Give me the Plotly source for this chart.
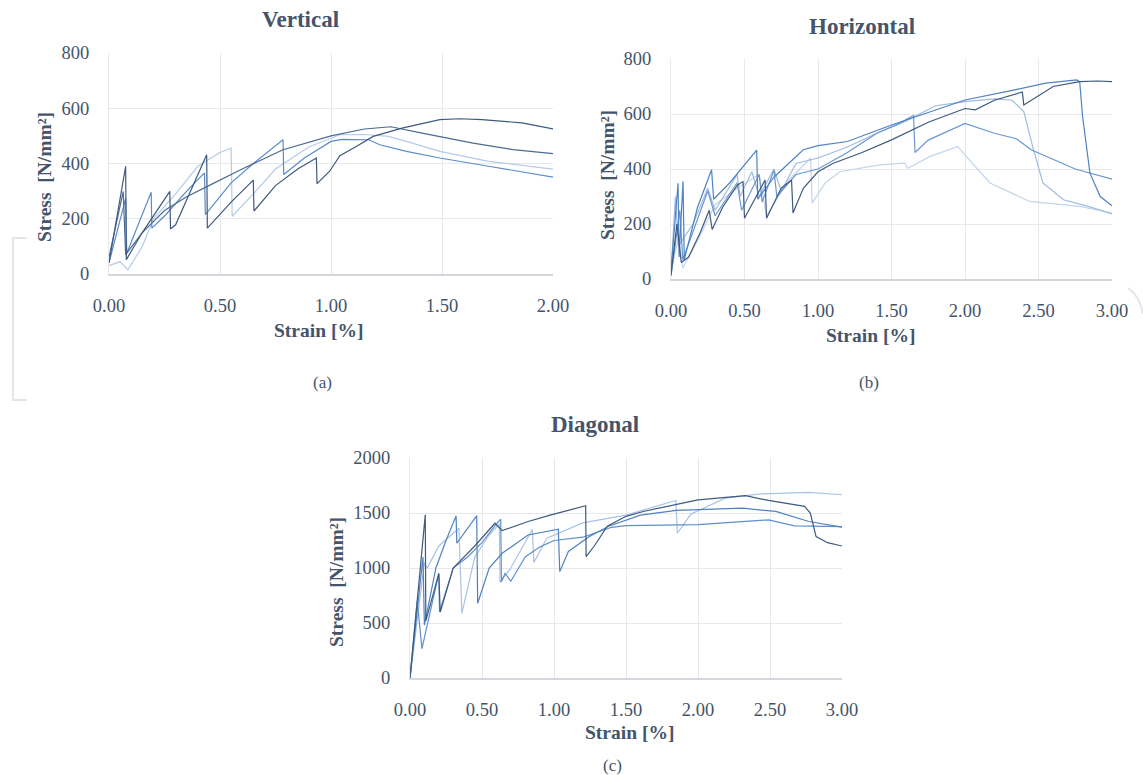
import plotly.graph_objects as go

W, H = 1143, 775

# ---------------- DATA ----------------
# Vertical
V1_strain = [0, 0.075, 0.078, 0.15, 0.274, 0.277, 0.30, 0.44, 0.443, 0.55, 0.65, 0.653, 0.75, 0.85, 0.934, 0.937, 0.994, 1.04, 1.11, 1.19, 1.32, 1.49, 1.58, 1.68, 1.86, 2.0]
V1_stress = [40, 390, 52, 150, 299, 163, 178, 432, 166, 260, 340, 228, 320, 380, 420, 327, 372, 428, 460, 498, 528, 559, 562, 559, 547, 525]
V2_strain = [0, 0.064, 0.075, 0.15, 0.25, 0.35, 0.45, 0.60, 0.784, 1.0, 1.15, 1.27, 1.41, 1.64, 1.82, 2.0]
V2_stress = [60, 299, 70, 150, 230, 280, 320, 380, 450, 500, 525, 533, 510, 474, 450, 436]
V3_strain = [0, 0.075, 0.08, 0.19, 0.193, 0.25, 0.35, 0.43, 0.434, 0.55, 0.65, 0.784, 0.787, 0.88, 1.0, 1.05, 1.17, 1.22, 1.34, 1.49, 1.71, 2.0]
V3_stress = [40, 274, 75, 296, 166, 210, 300, 366, 215, 330, 400, 486, 360, 420, 480, 487, 486, 468, 444, 420, 390, 351]
V4_strain = [0, 0.05, 0.085, 0.10, 0.15, 0.20, 0.30, 0.40, 0.50, 0.55, 0.555, 0.65, 0.75, 0.90, 1.04, 1.15, 1.26, 1.34, 1.49, 1.71, 2.0]
V4_stress = [30, 45, 15, 35, 100, 200, 290, 390, 440, 456, 209, 290, 380, 460, 504, 505, 498, 480, 444, 408, 380]

# Horizontal
H1_strain = [0, 0.04, 0.07, 0.12, 0.20, 0.26, 0.28, 0.35, 0.45, 0.49, 0.50, 0.60, 0.64, 0.65, 0.75, 0.82, 0.83, 0.90, 1.0, 1.1, 1.3, 1.5, 1.75, 2.0, 2.07, 2.2, 2.39, 2.40, 2.6, 2.78, 2.9, 3.0]
H1_stress = [15, 200, 60, 80, 170, 250, 180, 260, 340, 355, 221, 320, 360, 221, 330, 360, 240, 330, 390, 420, 460, 506, 570, 620, 615, 650, 680, 633, 700, 718, 720, 718]
H2_strain = [0, 0.048, 0.055, 0.082, 0.09, 0.18, 0.276, 0.29, 0.40, 0.583, 0.59, 0.70, 0.80, 0.90, 1.0, 1.2, 1.5, 1.75, 2.0, 2.33, 2.55, 2.76, 2.78, 2.80, 2.85, 2.92, 3.0]
H2_stress = [30, 348, 80, 355, 70, 260, 397, 290, 350, 469, 290, 370, 420, 470, 485, 500, 560, 605, 651, 687, 712, 724, 718, 591, 385, 300, 266]
H3_strain = [0, 0.03, 0.05, 0.15, 0.25, 0.30, 0.45, 0.47, 0.55, 0.60, 0.70, 0.75, 0.85, 1.0, 1.2, 1.4, 1.6, 1.8, 2.0, 2.2, 2.32, 2.40, 2.46, 2.53, 2.67, 2.85, 3.0]
H3_stress = [20, 300, 120, 200, 330, 250, 380, 300, 390, 300, 400, 320, 420, 440, 480, 530, 575, 630, 645, 655, 650, 609, 482, 349, 288, 262, 237]
H4_strain = [0, 0.06, 0.08, 0.20, 0.25, 0.30, 0.45, 0.48, 0.60, 0.62, 0.70, 0.72, 0.85, 1.0, 1.2, 1.4, 1.55, 1.65, 1.66, 1.75, 2.0, 2.2, 2.35, 2.45, 2.75, 3.0]
H4_stress = [10, 250, 70, 250, 320, 230, 350, 250, 380, 280, 395, 300, 380, 400, 460, 530, 565, 595, 460, 505, 566, 530, 510, 470, 400, 363]
H5_strain = [0, 0.05, 0.08, 0.20, 0.30, 0.45, 0.60, 0.65, 0.80, 0.95, 0.96, 1.05, 1.15, 1.3, 1.42, 1.59, 1.61, 1.76, 1.95, 2.01, 2.17, 2.44, 2.78, 3.0]
H5_stress = [30, 150, 40, 160, 270, 330, 380, 230, 360, 440, 276, 350, 390, 405, 415, 421, 403, 445, 482, 445, 349, 282, 264, 240]

# Diagonal
D1_strain = [0, 0.106, 0.11, 0.20, 0.21, 0.30, 0.45, 0.59, 0.64, 0.82, 0.98, 1.22, 1.223, 1.28, 1.37, 1.5, 1.62, 2.0, 2.33, 2.49, 2.74, 2.78, 2.82, 2.9, 3.0]
D1_stress = [0, 1483, 520, 950, 600, 1000, 1200, 1407, 1340, 1423, 1483, 1566, 1103, 1200, 1380, 1470, 1514, 1620, 1657, 1614, 1560, 1500, 1286, 1230, 1200]
D2_strain = [0, 0.09, 0.10, 0.18, 0.25, 0.32, 0.325, 0.463, 0.47, 0.55, 0.64, 0.82, 1.03, 1.04, 1.1, 1.25, 1.38, 1.6, 1.85, 2.31, 2.54, 2.77, 3.0]
D2_stress = [0, 1100, 480, 1000, 1250, 1474, 1225, 1474, 680, 1000, 1134, 1300, 1353, 967, 1150, 1290, 1380, 1480, 1523, 1544, 1514, 1423, 1371]
D3_strain = [0, 0.05, 0.083, 0.20, 0.205, 0.30, 0.40, 0.50, 0.60, 0.63, 0.635, 0.66, 0.70, 0.80, 0.90, 1.0, 1.2, 1.4, 1.5, 2.0, 2.49, 2.67, 3.0]
D3_stress = [0, 700, 267, 951, 600, 1000, 1100, 1230, 1400, 1444, 875, 950, 880, 1100, 1190, 1250, 1280, 1370, 1385, 1395, 1438, 1383, 1377]
D4_strain = [0, 0.10, 0.12, 0.20, 0.34, 0.36, 0.45, 0.55, 0.62, 0.625, 0.70, 0.85, 0.86, 0.95, 1.2, 1.5, 1.846, 1.857, 1.95, 2.19, 2.42, 2.77, 3.0]
D4_stress = [0, 1050, 1000, 1200, 1362, 587, 1100, 1300, 1400, 870, 1000, 1350, 1050, 1270, 1410, 1480, 1614, 1316, 1490, 1635, 1672, 1687, 1666]

VERT_XTICKS = [0, 0.5, 1.0, 1.5, 2.0]
WIDE_XTICKS = [0, 0.5, 1.0, 1.5, 2.0, 2.5, 3.0]
VERT_YTICKS = [0, 200, 400, 600, 800]
DIAG_YTICKS = [0, 500, 1000, 1500, 2000]

# ---------------- STYLE ----------------
NAVY = "#3f5a7e"
SLATE = "#4d6a92"
MID = "#4f82c2"
MID2 = "#6a97d0"
LIGHT = "#9dbbe2"
LIGHTEST = "#c3d4eb"
TXT = "#44546a"
GRID = "#e6e8ec"
FONT = "Liberation Serif"


def px(x):
    return x / W


def py(y):
    return 1 - y / H


fig = go.Figure()

series = [
    ("x", "y", V4_strain, V4_stress, "#b5cbe8"),
    ("x", "y", V3_strain, V3_stress, "#5a8cca"),
    ("x", "y", V2_strain, V2_stress, SLATE),
    ("x", "y", V1_strain, V1_stress, NAVY),
    ("x2", "y2", H5_strain, H5_stress, LIGHTEST),
    ("x2", "y2", H3_strain, H3_stress, LIGHT),
    ("x2", "y2", H4_strain, H4_stress, MID2),
    ("x2", "y2", H2_strain, H2_stress, MID),
    ("x2", "y2", H1_strain, H1_stress, NAVY),
    ("x3", "y3", D4_strain, D4_stress, "#a9c3e5"),
    ("x3", "y3", D3_strain, D3_stress, "#5f8fcd"),
    ("x3", "y3", D2_strain, D2_stress, MID),
    ("x3", "y3", D1_strain, D1_stress, NAVY),
]
for xa, ya, xs, ys, c in series:
    fig.add_trace(go.Scatter(x=xs, y=ys, xaxis=xa, yaxis=ya, mode="lines",
                             line=dict(color=c, width=1.2), showlegend=False,
                             hoverinfo="skip"))

tickfont = dict(family=FONT, size=18.5, color=TXT)


def xaxis_cfg(domain, rng, ticks, anchor):
    return dict(domain=domain, range=rng, tickvals=ticks,
                ticktext=[f"{t:.2f}" for t in ticks], showgrid=True,
                gridcolor=GRID, gridwidth=1, zeroline=False, showline=True,
                linecolor="#d4d7dc", linewidth=1.5, ticks="", tickfont=tickfont,
                ticklabelstandoff=14, anchor=anchor, fixedrange=True,
                automargin=False)


def yaxis_cfg(domain, rng, ticks, anchor):
    return dict(domain=domain, range=rng, tickvals=ticks,
                ticktext=[str(t) for t in ticks], showgrid=True,
                gridcolor=GRID, gridwidth=1, zeroline=False, showline=True,
                linecolor=GRID, linewidth=1, ticks="", tickfont=tickfont,
                ticklabelstandoff=15, anchor=anchor, fixedrange=True,
                automargin=False)


fig.update_layout(
    width=W, height=H, margin=dict(l=0, r=0, t=0, b=0, pad=0),
    paper_bgcolor="white", plot_bgcolor="white",
    xaxis=xaxis_cfg([px(109), px(553)], [0, 2], VERT_XTICKS, "y"),
    yaxis=yaxis_cfg([py(274), py(53)], [0, 800], VERT_YTICKS, "x"),
    xaxis2=xaxis_cfg([px(671), px(1112)], [0, 3], WIDE_XTICKS, "y2"),
    yaxis2=yaxis_cfg([py(279), py(59)], [0, 800], VERT_YTICKS, "x2"),
    xaxis3=xaxis_cfg([px(410), px(842)], [0, 3], WIDE_XTICKS, "y3"),
    yaxis3=yaxis_cfg([py(678), py(458)], [0, 2000], DIAG_YTICKS, "x3"),
)

ann = []


def add_text(text, x, y, size, bold=True, angle=0):
    ann.append(dict(text=f"<b>{text}</b>" if bold else text, x=px(x), y=py(y),
                    xref="paper", yref="paper", showarrow=False,
                    xanchor="center", yanchor="middle", textangle=angle,
                    font=dict(family=FONT, size=size, color=TXT)))


add_text("Vertical", 300, 20, 23)
add_text("Horizontal", 862, 26, 23)
add_text("Diagonal", 595, 425, 23)
ytitle = "Stress\u00a0\u00a0[N/mm²]"
add_text(ytitle, 44, 177, 19.5, angle=-90)
add_text(ytitle, 607, 175, 19.5, angle=-90)
add_text(ytitle, 336, 582, 19.5, angle=-90)
add_text("Strain [%]", 318, 330, 19.5)
add_text("Strain [%]", 870, 335, 19.5)
add_text("Strain [%]", 629, 732, 19.5)
add_text("(a)", 323, 383, 17, bold=False)
add_text("(b)", 869, 383, 17, bold=False)
add_text("(c)", 612, 765, 17, bold=False)
fig.update_layout(annotations=ann)

# page decorations (faint bracket on the left, arc on the right)
fig.add_shape(type="path", xref="paper", yref="paper",
              path=f"M {px(27)} {py(238)} L {px(13)} {py(238)} L {px(13)} {py(400)} L {px(27)} {py(400)}",
              line=dict(color="#e3e5e8", width=2))
fig.add_shape(type="path", xref="paper", yref="paper",
              path=f"M {px(1128)} {py(288)} Q {px(1140)} {py(296)} {px(1143)} {py(314)}",
              line=dict(color="#e3e5e8", width=2))

fig.write_html("out.html", config={"displayModeBar": False},
               post_script="document.body.style.margin='0';document.body.style.overflow='hidden';")
